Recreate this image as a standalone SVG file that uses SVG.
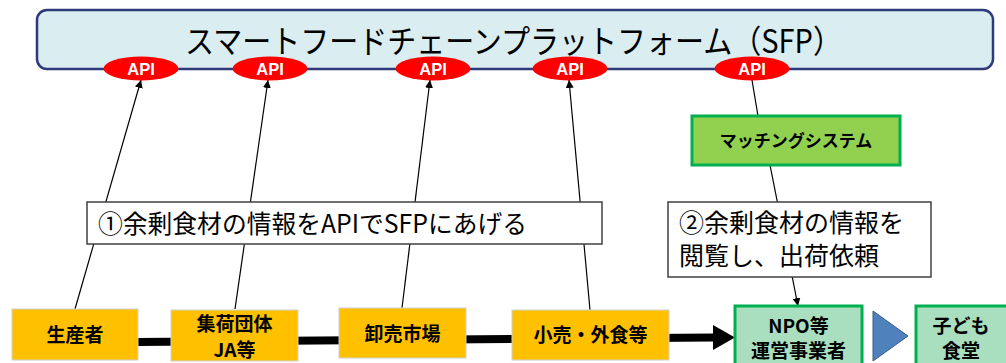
<svg xmlns="http://www.w3.org/2000/svg" width="1006" height="363" viewBox="0 0 1006 363">
<defs>
<style>
.jp{font-family:"Noto Sans CJK JP","Noto Sans",sans-serif;}
.title{font-size:32px;fill:#000;}
.api{font-family:"Liberation Sans",Arial,sans-serif;font-weight:bold;font-size:16.5px;fill:#fff;text-anchor:middle;}
.nl{font-size:19px;font-weight:bold;fill:#000;text-anchor:middle;}
.note{font-size:25px;fill:#000;}
.orange{fill:#FFC000;stroke:#d0d0d0;stroke-width:1;}
.green{fill:#A9DFBF;stroke:#00B050;stroke-width:3;}
.conn{stroke:#000;stroke-width:1.2;fill:none;}
</style>
<marker id="ah" viewBox="0 0 10 10" refX="10" refY="5" markerWidth="8" markerHeight="8" markerUnits="userSpaceOnUse" orient="auto">
<path d="M0,0 L10,5 L0,10 z" fill="#000"/>
</marker>
</defs>
<rect width="1006" height="363" fill="#fff"/>

<g id="connectors">
<line class="conn" x1="75" y1="309" x2="141" y2="80" marker-end="url(#ah)"/>
<line class="conn" x1="235" y1="309" x2="268" y2="80" marker-end="url(#ah)"/>
<line class="conn" x1="402" y1="308" x2="430" y2="80" marker-end="url(#ah)"/>
<line class="conn" x1="590" y1="310" x2="569" y2="80" marker-end="url(#ah)"/>
<line class="conn" x1="752" y1="80" x2="758" y2="116"/>
<line class="conn" x1="770" y1="165" x2="798" y2="306" marker-end="url(#ah)"/>
<line x1="138" y1="342" x2="715" y2="337.5" stroke="#000" stroke-width="8"/>
<polygon points="713,325 735,337.5 713,350" fill="#000"/>
</g>

<g id="sfp">
<rect x="37" y="10" width="956" height="59" rx="10" ry="10" fill="#DAEDF0" stroke="#2E3A7A" stroke-width="2.5"/>
<text class="jp title" x="185" y="53" textLength="657" lengthAdjust="spacingAndGlyphs">スマートフードチェーンプラットフォーム（SFP）</text>
</g>

<g id="api1"><ellipse cx="141" cy="68.5" rx="37.5" ry="12" fill="#FF0000"/><text class="api" x="141" y="74.5">API</text></g>
<g id="api2"><ellipse cx="270" cy="68.5" rx="37.5" ry="12" fill="#FF0000"/><text class="api" x="270" y="74.5">API</text></g>
<g id="api3"><ellipse cx="433" cy="68.5" rx="37.5" ry="12" fill="#FF0000"/><text class="api" x="433" y="74.5">API</text></g>
<g id="api4"><ellipse cx="570" cy="68.5" rx="37.5" ry="12" fill="#FF0000"/><text class="api" x="570" y="74.5">API</text></g>
<g id="api5"><ellipse cx="752" cy="68.5" rx="37.5" ry="12" fill="#FF0000"/><text class="api" x="752" y="74.5">API</text></g>

<g id="matching">
<rect x="692" y="116" width="208" height="49" fill="#92D050" stroke="#00B050" stroke-width="3"/>
<text class="jp" x="796" y="147" font-size="17" font-weight="bold" text-anchor="middle">マッチングシステム</text>
</g>

<g id="note1">
<rect x="87" y="202" width="515" height="42" fill="#fff" stroke="#404040" stroke-width="1.5"/>
<text class="jp note" x="98" y="233" textLength="429" lengthAdjust="spacingAndGlyphs">①余剰食材の情報をAPIでSFPにあげる</text>
</g>

<g id="note2">
<rect x="668" y="202" width="263" height="75" fill="#fff" stroke="#404040" stroke-width="1.5"/>
<text class="jp note" x="679" y="232">②余剰食材の情報を</text>
<text class="jp note" x="679" y="265">閲覧し、出荷依頼</text>
</g>

<g id="producer">
<rect class="orange" x="12" y="309" width="126" height="51"/>
<text class="jp nl" x="75" y="342" font-size="20">生産者</text>
</g>
<g id="ja">
<rect class="orange" x="171" y="310" width="127" height="51"/>
<text class="jp nl" x="234.5" y="331">集荷団体</text>
<text class="jp nl" x="234.5" y="357">JA等</text>
</g>
<g id="market">
<rect class="orange" x="339" y="308" width="127" height="50"/>
<text class="jp nl" x="402.5" y="341" font-size="20">卸売市場</text>
</g>
<g id="retail">
<rect class="orange" x="512" y="310" width="157" height="50"/>
<text class="jp nl" x="590.5" y="342">小売・外食等</text>
</g>
<g id="npo">
<rect class="green" x="735" y="306" width="127" height="65"/>
<text class="jp nl" x="798.5" y="333">NPO等</text>
<text class="jp nl" x="798.5" y="358" font-size="20">運営事業者</text>
</g>
<polygon id="flow" points="873,311 908,336 873,361" fill="#4F81BD" stroke="#385D8A" stroke-width="1"/>
<g id="kodomo">
<rect class="green" x="916" y="306" width="100" height="65"/>
<text class="jp nl" x="961" y="333">子ども</text>
<text class="jp nl" x="961" y="358">食堂</text>
</g>
</svg>
